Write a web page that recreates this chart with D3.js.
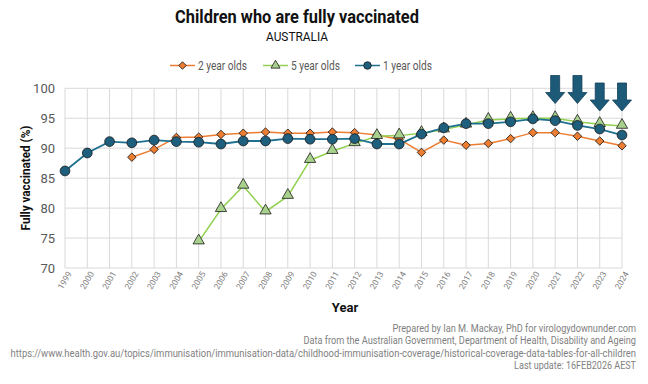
<!DOCTYPE html>
<html><head><meta charset="utf-8">
<script src="https://cdn.jsdelivr.net/npm/d3@7"></script>
<style>body{margin:0;background:#fff;}svg{display:block;}</style>
</head><body>
<script>
const years = d3.range(1999, 2025);
const oneYear = [86.2,89.2,91.1,90.9,91.35,91.1,91.0,90.7,91.2,91.2,91.6,91.5,91.5,91.6,90.7,90.7,92.35,93.4,94.1,94.1,94.4,94.9,94.6,93.8,93.2,92.2];
const twoYearYears = d3.range(2002, 2025);
const twoYear = [88.5,89.8,91.8,91.85,92.3,92.5,92.7,92.5,92.5,92.7,92.6,92.2,91.5,89.3,91.35,90.5,90.8,91.6,92.6,92.6,92.0,91.2,90.4];
const fiveYearYears = d3.range(2005, 2025);
const fiveYear = [74.4,79.8,83.7,79.4,82.0,88.0,89.5,90.8,92.0,92.1,92.5,93.1,93.9,94.7,94.9,95.0,95.0,94.4,94.0,93.7];
const yTicks = [70,75,80,85,90,95,100];
const arrowYears = [2021,2022,2023,2024];
const arrowTops = [75.5, 75.5, 83, 83]; // pixel tops
const footer = [
 "Prepared by Ian M. Mackay, PhD for virologydownunder.com",
 "Data from the Australian Government, Department of Health, Disability and Ageing",
 "https://www.health.gov.au/topics/immunisation/immunisation-data/childhood-immunisation-coverage/historical-coverage-data-tables-for-all-children",
 "Last update: 16FEB2026 AEST"];
const footerWidths = [244, 333, 626, 122];

const W=648,H=384;
const svg=d3.select("body").append("svg").attr("width",W).attr("height",H);
const font="'Roboto','Liberation Sans',sans-serif";
const x=d3.scaleLinear().domain([1999,2024]).range([65,622]);
const y=d3.scaleLinear().domain([70,100]).range([268,88.3]);

const cOr="#ED7D31", cGr="#92D050", cBl="#1F6F8F";

// narrow text helper: horizontal scale to target width
function narrowText(parent, str, px, py, target, anchor, size, weight, fill, rot){
  const t=parent.append("text").attr("text-anchor",anchor)
    .style("font-family",font).style("font-size",size+"px").style("font-weight",weight||"normal")
    .attr("fill",fill).text(str);
  const w=t.node().getComputedTextLength();
  const sx=Math.min(1,target/w);
  t.attr("transform",`translate(${px},${py})${rot?` rotate(${rot})`:""} scale(${sx},1)`);
  return t;
}

// grid
const g=svg.append("g");
g.selectAll("line.v").data(years).join("line")
 .attr("x1",d=>x(d)).attr("x2",d=>x(d)).attr("y1",y(100)).attr("y2",y(70))
 .attr("stroke","#d9d9d9").attr("stroke-width",1);
g.selectAll("line.h").data(yTicks).join("line")
 .attr("x1",x(1999)).attr("x2",x(2024)).attr("y1",d=>y(d)).attr("y2",d=>y(d))
 .attr("stroke","#d9d9d9").attr("stroke-width",1);

// y axis
const ya=svg.append("g").attr("transform",`translate(${x(1999)},0)`)
 .call(d3.axisLeft(y).tickValues(yTicks).tickSize(0).tickPadding(10));
ya.select(".domain").remove();
ya.selectAll("text").attr("fill","#595959").style("font-family",font).style("font-size","13px");

// x axis
const xa=svg.append("g").attr("transform",`translate(0,${y(70)})`)
 .call(d3.axisBottom(x).tickValues(years).tickFormat(d3.format("d")).tickSize(0));
xa.select(".domain").remove();
xa.selectAll("text").attr("fill","#7f7f7f").style("font-family",font).style("font-size","8.5px")
 .attr("text-anchor","end").attr("transform","translate(4,4) rotate(-60)").attr("dy","0.35em").attr("y",0).attr("x",0);

// lines
function series(xs, vs, color, shape, fill, lw){
  const data=xs.map((d,i)=>({x:d,v:vs[i]}));
  svg.append("path").datum(data).attr("fill","none").attr("stroke",color).attr("stroke-width",lw)
   .attr("d",d3.line().x(d=>x(d.x)).y(d=>y(d.v)));
  const sym=d3.symbol().type(shape.type).size(shape.size);
  svg.append("g").selectAll("path").data(data).join("path")
   .attr("d",sym).attr("transform",d=>`translate(${x(d.x)},${y(d.v)})${shape.rot||""}`)
   .attr("fill",fill).attr("stroke","#1a1a1a").attr("stroke-width",0.8);
}
series(twoYearYears,twoYear,cOr,{type:d3.symbolSquare,size:36,rot:" rotate(45)"},cOr,1.5);
series(fiveYearYears,fiveYear,cGr,{type:d3.symbolTriangle,size:55,rot:" translate(0,-1)"},"#A9D18E",1.5);
series(years,oneYear,cBl,{type:d3.symbolCircle,size:75},"#1D5F7D",1.8);

// arrows
const ag=svg.append("g");
arrowYears.forEach((yr,i)=>{
  const cx=x(yr), top=arrowTops[i], L=28, sw=4.5, hw=9.5, hh=11;
  const tip=top+L;
  ag.append("path").attr("d",`M${cx-sw},${top}L${cx+sw},${top}L${cx+sw},${tip-hh}L${cx+hw},${tip-hh}L${cx},${tip}L${cx-hw},${tip-hh}L${cx-sw},${tip-hh}Z`)
   .attr("fill","#1D5A78").attr("stroke","#13405a").attr("stroke-width",0.8);
});

// titles
narrowText(svg,"Children who are fully vaccinated",297,23,244,"middle",18,"bold","#111");
narrowText(svg,"AUSTRALIA",297,40.5,62,"middle",13,"normal","#111");

// legend
const leg=[{t:"2 year olds",c:cOr,f:cOr,s:d3.symbolSquare,sz:28,r:" rotate(45)",x:170},
 {t:"5 year olds",c:cGr,f:"#A9D18E",s:d3.symbolTriangle,sz:36,r:"",x:263},
 {t:"1 year olds",c:cBl,f:"#1D5F7D",s:d3.symbolCircle,sz:45,r:"",x:355}];
leg.forEach(l=>{
  svg.append("line").attr("x1",l.x).attr("x2",l.x+25).attr("y1",65.5).attr("y2",65.5).attr("stroke",l.c).attr("stroke-width",1.5);
  svg.append("path").attr("d",d3.symbol().type(l.s).size(l.sz)()).attr("transform",`translate(${l.x+12.5},65.5)${l.r}`)
   .attr("fill",l.f).attr("stroke","#1a1a1a").attr("stroke-width",0.8);
  narrowText(svg,l.t,l.x+28,70,49,"start",12,"normal","#595959");
});

// axis titles
narrowText(svg,"Fully vaccinated (%)",30,178,105,"middle",12.5,"bold","#111",-90);
svg.append("text").attr("x",345).attr("y",312).attr("text-anchor","middle")
 .style("font-family",font).style("font-weight","bold").style("font-size","13px").attr("fill","#111").text("Year");

// footer
footer.forEach((d,i)=>narrowText(svg,d,636,332+i*12.3,footerWidths[i],"end",10,"normal","#7f7f7f"));
</script>
</body></html>
